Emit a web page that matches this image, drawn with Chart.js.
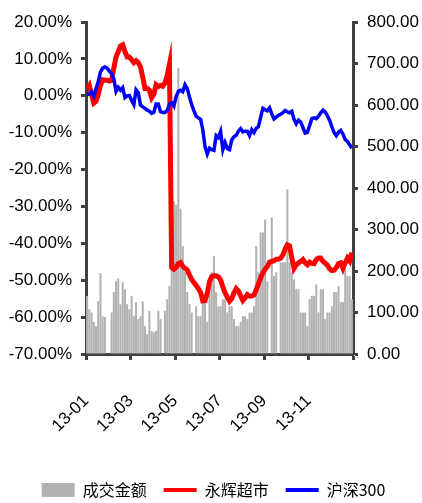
<!DOCTYPE html>
<html>
<head>
<meta charset="utf-8">
<script src="https://cdn.jsdelivr.net/npm/chart.js@4/dist/chart.umd.min.js"></script>
<style>
html,body{margin:0;padding:0;background:#fff;}
#wrap{width:422px;height:503px;position:relative;}
</style>
</head>
<body>
<div id="wrap"><canvas id="c" width="422" height="503"></canvas></div>
<script>
// x tick labels (every 20 samples, ~2 months)
const tickLabels = ['13-01','13-03','13-05','13-07','13-09','13-11',''];
const seriesNames = ['成交金额','永辉超市','沪深300'];

// 成交金额 (right axis)
const volume = [140,108,100,77,67,127,195,91,89,0,0,100,149,175,182,120,173,156,120,108,
140,91,125,84,91,127,67,48,104,56,52,56,104,84,0,104,132,164,210,368,
360,690,350,260,197,149,120,100,0,115,91,91,132,132,77,149,197,236,149,115,
115,132,132,100,115,115,84,67,67,77,91,91,84,100,100,115,260,197,293,293,
324,175,0,329,188,197,0,221,221,221,397,221,197,180,156,156,100,100,100,67,
132,140,140,168,100,156,156,84,100,100,115,149,149,164,125,125,204,188,188,132];

// 永辉超市 (left axis, %)
const yonghui = [1.9,2.8,0.3,-2,-1.5,0.3,2.8,4.3,4.2,4.2,4,4.2,7.5,10.5,12,13.5,13.8,12,10.5,10.5,
9.8,9,9.5,9,7.8,5,2,2,1.5,-0.5,0.5,3,2.5,2.8,2.6,3.5,5.5,8.5,-46.5,-47,
-46.5,-45.5,-45.2,-46.2,-46.8,-47.2,-48.6,-49.8,-50.6,-51.4,-52.3,-53.3,-55.6,-55.5,-53.5,-50.4,-49,-48.8,-48.8,-49.1,
-50,-51.8,-53.4,-54.6,-55.7,-55,-53.4,-52.3,-52.9,-54.2,-55.5,-54.8,-53.9,-54.3,-54.3,-54,-52.6,-51,-49.3,-48,
-47,-46.3,-45.1,-44.9,-44.7,-44.3,-44.3,-44,-43.1,-41.5,-40.4,-40.7,-44,-46.8,-45.8,-45.3,-44.9,-44.4,-45.3,-45.8,
-45.1,-45.4,-45.5,-44.4,-44,-44,-44.9,-45.4,-45.9,-46.9,-47.4,-47.3,-46.6,-45.5,-45.3,-46.8,-45.3,-44,-44.8,-42.5];

// 沪深300 (left axis, %)
const hs300 = [0.3,0.5,1.1,-0.1,1.9,3.9,6.4,7.5,7.8,7.5,6.7,6,4.6,1.2,2.3,1.5,2.2,-0.5,0,0.1,
-1.3,-2.4,1.6,0.8,-2.5,-3,-3.4,-3.9,-4.2,-4.8,-4.5,-2.2,-2.2,-4.3,-4.5,-4.5,-4,-2.2,-1.9,-2.8,
-0.2,1.2,1.5,1.1,3,2,-0.3,-2.4,-4,-5.6,-6,-6.4,-9.2,-13.8,-15.8,-14.2,-14.6,-14.8,-10.8,-11.3,
-9.7,-14.6,-12.7,-14.3,-14.6,-12,-11.1,-10.7,-9.6,-8.9,-9.8,-9.6,-9.6,-10.8,-9.2,-10,-8.8,-8.4,-5.8,-3.4,
-3.8,-4.1,-3.3,-4.9,-6.3,-5.8,-5.3,-5,-4.6,-4,-4.4,-4.6,-4.2,-6.4,-7.6,-6.6,-7.1,-8.6,-10.1,-9.9,
-8.1,-6.2,-6,-6.2,-5.5,-4.6,-3.9,-4.4,-5.4,-6.7,-8.4,-10,-10.8,-9.9,-9.4,-10.4,-11.9,-12.4,-13.3,-14.2];

const toXY = arr => arr.map((v, i) => ({x: i + 0.5, y: v}));
const axisColor = '#404040';
const latin = 'Liberation Sans, Arial, sans-serif';

new Chart(document.getElementById('c'), {
  type: 'bar',
  data: {
    datasets: [
      {type:'bar', label: seriesNames[0], data: toXY(volume), yAxisID:'y1',
       backgroundColor:'#b2b2b2', borderWidth:0, barPercentage:0.92, categoryPercentage:1, order:3},
      {type:'line', label: seriesNames[1], data: toXY(yonghui), yAxisID:'y',
       borderColor:'#ff0000', borderWidth:5, pointRadius:0, tension:0, fill:false, order:2},
      {type:'line', label: seriesNames[2], data: toXY(hs300), yAxisID:'y',
       borderColor:'#0000ff', borderWidth:3.5, pointRadius:0, tension:0, fill:false, order:1}
    ]
  },
  options: {
    responsive:false, animation:false, devicePixelRatio:1,
    layout:{padding:{left:5,right:0,top:22,bottom:-5}},
    plugins:{
      tooltip:{enabled:false},
      legend:{
        position:'bottom',
        labels:{
          usePointStyle:true, pointStyleWidth:33, boxHeight:14, padding:17,
          font:{family:'Noto Sans CJK SC', size:16}, color:'#000',
          generateLabels:(chart)=> chart.data.datasets.map((ds,i)=>({
            text: ds.label,
            fillStyle: ds.type==='bar' ? ds.backgroundColor : ds.borderColor,
            strokeStyle: ds.type==='bar' ? ds.backgroundColor : ds.borderColor,
            lineWidth: ds.type==='bar' ? 0 : 4,
            pointStyle: ds.type==='bar' ? 'rect' : 'line',
            datasetIndex:i, hidden:false, fontColor:'#000'
          }))
        }
      }
    },
    scales:{
      x:{
        type:'linear', min:0, max:120, offset:false,
        ticks:{stepSize:20, autoSkip:false, maxRotation:45, minRotation:45, padding:31, labelOffset:0,
          callback:(v)=> tickLabels[Math.round(v/20)] ?? '',
          font:{family:latin, size:17}, color:'#000'},
        grid:{offset:false, drawOnChartArea:false, drawTicks:true, tickLength:6, tickWidth:3, tickColor:axisColor},
        border:{display:true, color:axisColor, width:3},
        afterFit:(s)=>{ s.height = 111; }
      },
      y:{
        position:'left', min:-70, max:20,
        ticks:{stepSize:10, padding:9, callback:(v)=> v.toFixed(2)+'%',
          font:{family:latin, size:17}, color:'#000'},
        grid:{drawOnChartArea:false, drawTicks:true, tickLength:5, tickWidth:3, tickColor:axisColor},
        border:{display:true, color:axisColor, width:3},
        afterFit:(s)=>{ s.width = 81; }
      },
      y1:{
        position:'right', min:0, max:800,
        ticks:{stepSize:100, padding:9, callback:(v)=> v.toFixed(2),
          font:{family:latin, size:17}, color:'#000'},
        grid:{drawOnChartArea:false, drawTicks:true, tickLength:5, tickWidth:3, tickColor:axisColor},
        border:{display:true, color:axisColor, width:3},
        afterFit:(s)=>{ s.width = 69; }
      }
    }
  }
});
</script>
</body>
</html>
